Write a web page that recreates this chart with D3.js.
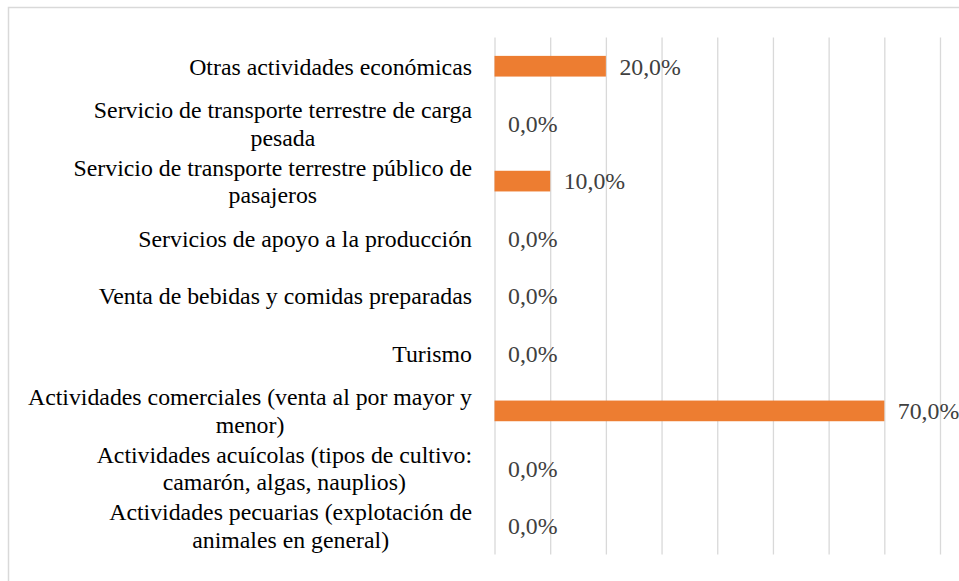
<!DOCTYPE html>
<html>
<head>
<meta charset="utf-8">
<script src="https://cdn.jsdelivr.net/npm/d3@7"></script>
<style>
  body { margin: 0; background: #fff; }
  svg { display: block; }
</style>
</head>
<body>
<svg id="chart"></svg>
<script>
// categories, top to bottom, already split into the lines shown
var categories = [
  ["Otras actividades económicas"],
  ["Servicio de transporte terrestre de carga", "pesada"],
  ["Servicio de transporte terrestre público de", "pasajeros"],
  ["Servicios de apoyo a la producción"],
  ["Venta de bebidas y comidas preparadas"],
  ["Turismo"],
  ["Actividades comerciales (venta al por mayor y", "menor)"],
  ["Actividades acuícolas (tipos de cultivo:", "camarón, algas, nauplios)"],
  ["Actividades pecuarias (explotación de", "animales en general)"]
];
var values = [0.20, 0, 0.10, 0, 0, 0, 0.70, 0, 0];
var xTicks = [0, 0.1, 0.2, 0.3, 0.4, 0.5, 0.6, 0.7, 0.8];

var width = 959, height = 581;
var svg = d3.select("#chart").attr("width", width).attr("height", height);

var fontFam = "'Liberation Serif', 'Times New Roman', serif";
var fontSize = 23.8, lineH = 27.5;

// outer chart border
svg.append("rect")
  .attr("x", 8.5).attr("y", 7.5)
  .attr("width", 1000).attr("height", 1000)
  .attr("fill", "none").attr("stroke", "#d9d9d9").attr("stroke-width", 1.5);

var plotLeft = 494.5, plotRight = 940, plotTop = 37.5, plotBottom = 554.5;

var x = d3.scaleLinear().domain([0, 0.8]).range([plotLeft, plotRight]);
var y = d3.scaleBand().domain(d3.range(categories.length))
  .range([plotTop, plotBottom]).paddingInner(0.64).paddingOuter(0.32);

// vertical gridlines
svg.append("g")
  .attr("transform", "translate(0," + plotBottom + ")")
  .call(d3.axisBottom(x).tickValues(xTicks).tickSize(-(plotBottom - plotTop)).tickFormat(""))
  .call(function (g) {
    g.select(".domain").remove();
    g.selectAll(".tick line").attr("stroke", "#d9d9d9").attr("stroke-width", 1.3);
  });

// bars
svg.append("g").selectAll("rect")
  .data(values)
  .enter().append("rect")
  .attr("x", x(0))
  .attr("y", function (d, i) { return y(i); })
  .attr("width", function (d) { return x(d) - x(0); })
  .attr("height", y.bandwidth())
  .attr("fill", "#ED7D31");

// data labels
var loc = d3.formatLocale({ decimal: ",", thousands: ".", grouping: [3], currency: ["", ""] });
var pct = loc.format(".1%");
svg.append("g").selectAll("text")
  .data(values)
  .enter().append("text")
  .attr("x", function (d) { return x(d) + 13.5; })
  .attr("y", function (d, i) { return y(i) + y.bandwidth() / 2; })
  .attr("dy", "0.35em")
  .attr("font-family", fontFam)
  .attr("font-size", fontSize)
  .attr("fill", "#404040")
  .text(function (d) { return pct(d); });

// category labels: lines centred inside a block that is right-aligned
var labelRight = 472;
var catG = svg.append("g");
categories.forEach(function (lines, i) {
  var cy = y(i) + y.bandwidth() / 2;
  var t = catG.append("text")
    .attr("font-family", fontFam)
    .attr("font-size", fontSize)
    .attr("fill", "#000");
  var spans = lines.map(function (s, k) {
    return t.append("tspan")
      .attr("y", cy + (k - (lines.length - 1) / 2) * lineH)
      .attr("dy", "0.35em")
      .attr("text-anchor", "middle")
      .text(s);
  });
  var w = d3.max(spans, function (sp) { return sp.node().getComputedTextLength(); });
  spans.forEach(function (sp) { sp.attr("x", labelRight - w / 2); });
});
</script>
</body>
</html>
